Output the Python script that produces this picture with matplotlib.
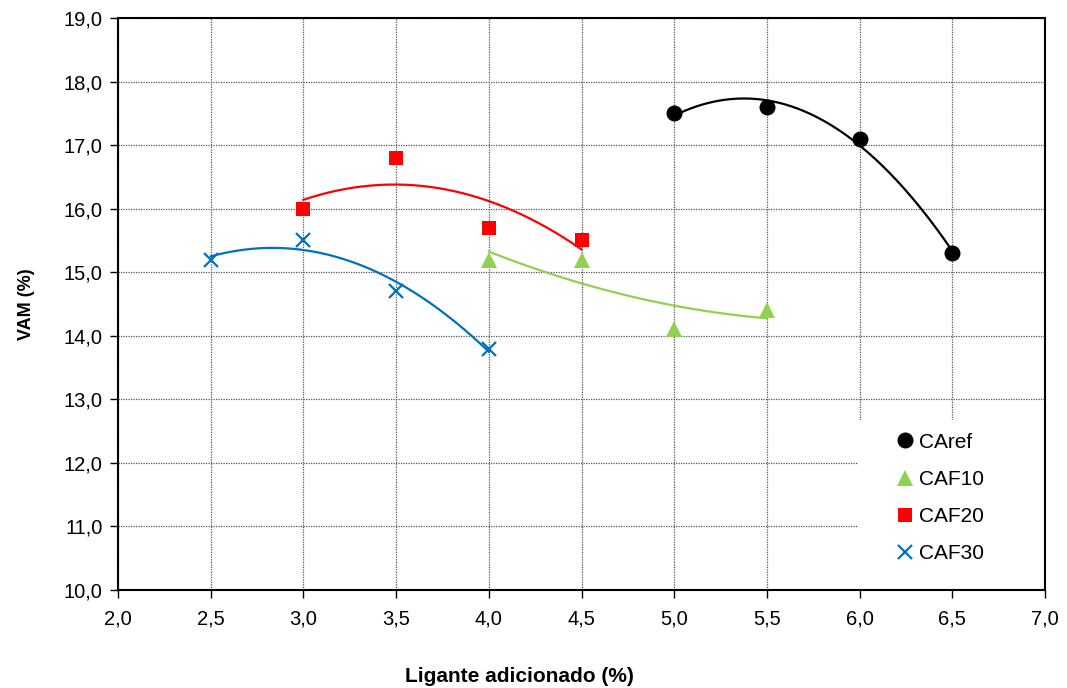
import numpy as np
import matplotlib
matplotlib.use("Agg")
import matplotlib.pyplot as plt
from matplotlib.patches import Rectangle

plt.rcParams['font.family'] = ['Liberation Sans', 'DejaVu Sans']

x_caref = [5.0, 5.5, 6.0, 6.5]
y_caref = [17.5, 17.6, 17.1, 15.3]
x_caf10 = [4.0, 4.5, 5.0, 5.5]
y_caf10 = [15.2, 15.2, 14.1, 14.4]
x_caf20 = [3.0, 3.5, 4.0, 4.5]
y_caf20 = [16.0, 16.8, 15.7, 15.5]
x_caf30 = [2.5, 3.0, 3.5, 4.0]
y_caf30 = [15.2, 15.5, 14.7, 13.8]

series = [
    ("CAref", x_caref, y_caref, "#000000", "o", 11.5),
    ("CAF10", x_caf10, y_caf10, "#92D050", "^", 11.5),
    ("CAF20", x_caf20, y_caf20, "#FF0000", "s", 10.5),
    ("CAF30", x_caf30, y_caf30, "#0070C0", "x", 10),
]

fig = plt.figure(figsize=(10.67, 6.88), dpi=100)
ax = fig.add_axes([0.1106, 0.1424, 0.8688, 0.8314])

for name, xs, ys, col, mk, ms in series:
    coef = np.polyfit(xs, ys, 2)
    xx = np.linspace(min(xs), max(xs), 200)
    ax.plot(xx, np.polyval(coef, xx), color=col, lw=1.6, zorder=3)
    if mk == "x":
        ax.plot(xs, ys, linestyle='none', marker=mk, color=col, markersize=ms,
                markeredgewidth=1.6, label=name, zorder=4)
    else:
        ax.plot(xs, ys, linestyle='none', marker=mk, color=col, markersize=ms,
                markeredgewidth=0, label=name, zorder=4)

ax.set_xlim(2.0, 7.0)
ax.set_ylim(10.0, 19.0)
xt = np.arange(2.0, 7.01, 0.5)
yt = np.arange(10.0, 19.01, 1.0)
ax.set_xticks(xt)
ax.set_yticks(yt)
ax.set_xticklabels([f"{v:.1f}".replace('.', ',') for v in xt])
ax.set_yticklabels([f"{v:.1f}".replace('.', ',') for v in yt])
ax.tick_params(direction='out', length=6, width=1, labelsize=14.5, color='black')
ax.tick_params(axis='x', pad=8)
ax.tick_params(axis='y', pad=5)

ax.grid(True, linestyle=(0, (1, 1)), color='#555555', linewidth=0.9)
ax.set_axisbelow(True)
for s in ax.spines.values():
    s.set_linewidth(1.5)
    s.set_color('black')

ax.set_xlabel("Ligante adicionado (%)", fontsize=15, fontweight='bold')
ax.xaxis.set_label_coords(0.433, -0.135)
ax.set_ylabel("VAM (%)", fontsize=13, fontweight='bold')
ax.yaxis.set_label_coords(-0.090, 0.499)

# white legend area covering gridlines
ax.add_patch(Rectangle((0.798, 0.0), 0.202, 0.297, transform=ax.transAxes,
                       facecolor='white', edgecolor='none', zorder=2.5))

leg = ax.legend(loc='upper left', bbox_to_anchor=(0.840, 0.275), frameon=False,
                fontsize=15, borderaxespad=0, borderpad=0,
                handlelength=0.8, handletextpad=0.25, labelspacing=0.87)
leg.set_zorder(5)

fig.savefig("out.png", dpi=100)
